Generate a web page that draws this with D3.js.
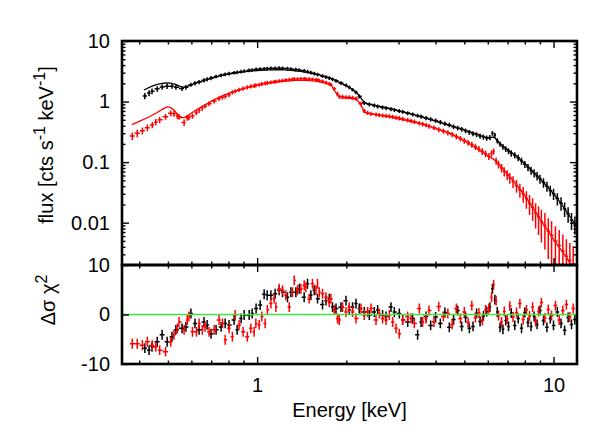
<!DOCTYPE html>
<html><head><meta charset="utf-8">
<script src="https://cdn.jsdelivr.net/npm/d3@7"></script>
<style>
body{margin:0;background:#fff;}
svg text{font-family:"Liberation Sans",Arial,Helvetica,sans-serif;fill:#000;}
</style></head><body>
<svg id="chart" width="613" height="429"></svg>
<script>
// ---------------- data ----------------
const blackE = [0.418,0.432,0.442,0.460,0.478,0.497,0.516,0.532,0.558,0.575,0.598,0.617,0.637,0.662,0.678,0.699,0.727,0.756,0.780,0.804,0.836,0.856,0.883,0.904,0.940,0.962,0.992,1.024,1.056,1.081,
 1.113,1.150,1.187,1.218,1.266,1.300,1.351,1.387,1.441,1.479,1.518,1.558,1.599,1.662,1.707,1.751,1.796,1.845,1.918,1.994,2.046,2.099,2.155,2.211,2.299,2.390,2.485,2.550,2.650,2.722,2.829,2.903,3.018,3.097,3.220,3.347,3.479,3.573,3.715,
 3.85,4.0,4.15,4.3,4.45,4.6,4.75,4.9,5.05,5.2,5.35,5.5,5.65,5.8,5.95,6.1,6.22,6.34,6.46,6.6,6.75,6.9,7.05,7.2,7.4,7.6,7.8,8.0,8.2,8.4,8.6,8.8,9.0,9.25,9.5,9.75,10.0,10.3,10.6,10.9,11.2,11.5,11.8];
const blackFlux = [1.24,1.38,1.48,1.62,1.74,1.79,1.79,1.72,1.64,1.72,1.90,2.00,2.10,2.25,2.33,2.45,2.60,2.72,2.82,2.90,3.00,3.05,3.12,3.18,3.28,3.33,3.40,3.44,3.48,3.50,
 3.54,3.56,3.57,3.56,3.50,3.45,3.38,3.32,3.22,3.12,3.02,2.90,2.80,2.64,2.54,2.44,2.33,2.20,2.02,1.86,1.72,1.57,1.42,1.22,0.95,0.90,0.86,0.83,0.80,0.78,0.75,0.73,0.70,0.68,0.645,0.615,0.585,0.565,0.535,
 0.51,0.485,0.455,0.43,0.41,0.385,0.365,0.35,0.33,0.31,0.295,0.285,0.27,0.26,0.25,0.255,0.30,0.28,0.225,0.20,0.18,0.165,0.152,0.14,0.13,0.118,0.104,0.092,0.082,0.073,0.066,0.059,0.053,0.046,0.040,0.034,0.030,0.025,0.021,0.017,0.014,0.011,0.0095];
const blackErr = [0.12,0.11,0.11,0.10,0.10,0.10,0.09,0.09,0.09,0.09,0.08,0.08,0.08,0.08,0.08,0.08,0.07,0.07,0.07,0.07,0.07,0.07,0.07,0.07,0.07,0.07,0.07,0.07,0.07,0.07,
 0.07,0.07,0.07,0.07,0.07,0.07,0.07,0.07,0.07,0.07, 0.07,0.07,0.07,0.07,0.07,0.07,0.07,0.07,0.07,0.07, 0.07,0.07,0.07,0.075,0.075,0.075,0.075,0.075,0.075,0.075, 0.075,0.075,0.075,0.075,0.075,0.075,0.08,0.08,0.08,
 0.08,0.08,0.085,0.085,0.085,0.09,0.09,0.09,0.09,0.095,0.095,0.095,0.1,0.1,0.1,0.1,0.09,0.095,0.1,0.1,0.11,0.11,0.115,0.12,0.12,0.125,0.13,0.135,0.14,0.15,0.155,0.16,0.17,0.18,0.19,0.2,0.21,0.23,0.25,0.27,0.29,0.31,0.33];
const blackRes = [-6.8,-7.2,-6.5,-5.5,-4.1,-5.5,-4.5,-3.1,-2.8,-2.5,0.2,-1.8,-3.1,-1.5,-2.1,-3.9,-3.1,-2.5,-1.8,-2.1,-1.1,-3.1,-0.8,-0.1,-0.1,0.2,1.2,1.9,4.1,3.9,
 3.9,4.2,4.9,4.5,3.5,4.5,4.5,5.2,3.5,6.2,3.9,4.9,3.2,2.0,2.8,3.2,1.5,1.2,1.5,2.8,0.9,1.5,2.2,1.2,0.5,-0.1,0.5,0.9,-0.1,-0.4,1.5,0.5,0.2,-1.1,-1.5,-0.8,-4.1,-1.5,-0.4,
 -2.2,-0.5,-1.8,0.4,-2.6,-1.0,0.8,-2.4,-0.6,-2.8,-2.4,0.2,-1.4,-0.3,0.6,1.5,5.2,3.0,0.5,-2.6,-3.0,-1.2,-2.4,0.3,-2.2,-0.8,-2.8,0.4,-1.6,-2.4,-0.4,-2.0,0.8,-1.2,-2.6,-0.8,-2.2,0.5,-1.8,-3.2,-0.6,-2.0,-1.0];

const redE = [0.379,0.394,0.410,0.426,0.443,0.455,0.469,0.491,0.511,0.524,0.538,0.545,0.567,0.581,0.589,0.605,0.624,0.637,0.653,0.667,0.688,0.716,0.744,0.764,0.780,0.804,0.825,0.843,0.869,0.897,0.927,0.952,0.977,0.990,1.016,1.037,1.064,1.083,
 1.113,1.141,1.157,1.187,1.218,1.250,1.283,1.316,1.334,1.368,1.405,1.441,1.460,1.498,1.537,1.579,1.599,1.620,1.662,1.707,1.751,1.774,1.820,1.867,1.892,1.942,1.994,2.046,2.099,2.155,2.240,2.299,2.359,2.422,2.518,2.584,2.650,2.722,2.792,2.865,2.942,3.018,3.097,3.220,3.306,3.391,3.526,3.618,3.715,
 3.8,3.95,4.1,4.25,4.4,4.55,4.7,4.85,5.0,5.15,5.3,5.45,5.6,5.75,5.9,6.05,6.18,6.28,6.4,6.52,6.68,6.82,6.98,7.12,7.3,7.5,7.7,7.9,8.1,8.3,8.5,8.7,8.9,9.1,9.35,9.6,9.85,10.15,10.45,10.75,11.05,11.35,11.65];
const redFlux = [0.27,0.30,0.33,0.37,0.41,0.46,0.50,0.56,0.64,0.63,0.58,0.56,0.45,0.54,0.55,0.58,0.66,0.72,0.78,0.84,0.92,1.02,1.12,1.18,1.22,1.30,1.42,1.48,1.56,1.64,1.72,1.78,1.82,1.86,1.90,1.95,2.00,2.04,
 2.08,2.12,2.14,2.19,2.23,2.27,2.30,2.33,2.35,2.36,2.37,2.37,2.36,2.35,2.33,2.29,2.27,2.23,2.16,2.06,1.96,1.90,1.62,1.35,1.22,1.20,1.18,1.18,1.16,1.12,0.92,0.70,0.65,0.63,0.61,0.60,0.59,0.58,0.57,0.56,0.545,0.53,0.515,0.495,0.48,0.465,0.44,0.425,0.41,
 0.39,0.37,0.345,0.325,0.305,0.285,0.265,0.245,0.225,0.21,0.195,0.18,0.165,0.15,0.138,0.125,0.14,0.15,0.105,0.092,0.08,0.07,0.062,0.055,0.048,0.041,0.035,0.030,0.025,0.021,0.018,0.0145,0.0125,0.0105,0.009,0.0072,0.0062,0.005,0.0042,0.0034,0.0028,0.0024,0.0021];
const redErr = [0.14,0.14,0.13,0.13,0.12,0.12,0.12,0.11,0.11,0.11,0.11,0.11,0.12,0.11,0.11,0.1,0.1,0.1,0.1,0.09,0.09,0.09,0.09,0.09,0.09,0.09,0.08,0.08,0.08,0.08,0.08,0.08,0.08,0.08,0.08,0.08,0.08,0.08,
 0.07,0.07,0.07,0.07,0.07,0.07,0.07,0.07,0.07,0.07, 0.07,0.07,0.07,0.07,0.07,0.07,0.07,0.07,0.07,0.07, 0.07,0.07,0.075,0.075,0.075,0.075,0.075,0.075,0.075,0.08, 0.08,0.08,0.08,0.08,0.08,0.08,0.08,0.08,0.08,0.08, 0.08,0.085,0.085,0.085,0.085,0.085,0.085,0.085,0.085,
 0.09,0.09,0.095,0.095,0.1,0.1,0.105,0.105,0.11,0.11,0.115,0.12,0.12,0.125,0.13,0.13,0.12,0.12,0.14,0.15,0.16,0.17,0.18,0.2,0.22,0.24,0.26,0.29,0.32,0.36,0.4,0.45,0.5,0.55,0.6,0.65,0.7,0.75,0.8,0.85,0.9,0.93,0.95];
const redRes = [-5.9,-5.9,-6.2,-5.5,-6.2,-6.5,-7.2,-7.5,-5.5,-4.1,-2.8,-1.5,-3.1,-1.1,-0.4,-3.5,-3.5,-1.8,-3.1,-2.5,-3.5,-3.1,-1.1,-1.8,-5.1,-2.8,-4.5,-0.1,-2.1,-3.5,-4.5,-2.8,-3.5,-1.8,-2.1,-0.4,-1.8,0.9,
 2.2,3.2,1.5,5.2,4.9,3.9,1.5,4.5,6.9,4.9,5.2,5.9,5.5,3.2,6.2,4.9,6.2,4.5,4.2,3.5,2.5,3.2,0.9,-0.8,-1.1,1.5,0.5,1.5,0.5,-0.8,1.2,-0.1,0.5,1.2,-1.1,0.2,-0.8,-1.1,-0.1,-1.5,-2.8,-3.9,-1.1,-0.4,-0.8,-1.8,1.2,-1.5,-0.8,
 0.8,-1.5,1.6,-0.4,0.2,-2.0,1.2,-0.8,0.5,-1.6,1.8,-0.6,0.3,-1.2,0.9,1.2,3.5,6.0,2.8,-0.2,-1.5,0.6,-0.9,1.7,-0.5,0.4,2.2,-1.0,0.9,-0.3,1.5,-1.4,0.6,2.4,-0.7,1.0,-0.2,1.8,-1.1,0.8,2.0,-0.5,1.2];

const blackModelE = [0.415,0.44,0.46,0.49,0.51,0.53,0.55,0.567,0.59,0.62,0.66,0.70,0.75,0.80,0.85,0.90,0.95,1.0,1.1,1.2,1.3,1.4,1.5,1.6,1.7,1.8,1.9,2.0,2.1,2.2,2.3,2.4,2.6,2.8,3.0,3.5,4.0,4.5,5.0,5.5,6.0,6.3,6.6,7.0,7.5,8.0,8.5,9.0,9.5,10.0,10.5,11.0,11.5,12.0];
const blackModelF = [1.55,1.78,1.92,2.04,2.02,1.92,1.78,1.72,1.84,2.02,2.22,2.42,2.65,2.84,2.98,3.08,3.18,3.26,3.34,3.36,3.28,3.14,2.98,2.80,2.58,2.34,2.06,1.82,1.58,1.30,0.95,0.90,0.83,0.77,0.70,0.58,0.475,0.40,0.34,0.29,0.25,0.26,0.20,0.158,0.125,0.094,0.070,0.053,0.040,0.030,0.022,0.016,0.0115,0.0085];
const redModelE = [0.378,0.40,0.43,0.46,0.48,0.496,0.51,0.525,0.54,0.553,0.57,0.59,0.62,0.65,0.69,0.73,0.78,0.83,0.9,1.0,1.07,1.15,1.25,1.35,1.45,1.58,1.7,1.78,1.82,1.87,1.9,2.0,2.15,2.22,2.3,2.4,2.6,2.8,3.0,3.5,4.0,4.5,5.0,5.5,6.0,6.3,6.6,7.0,7.5,8.0,8.5,9.0,9.5,10.0,10.5,11.0,11.5,12.0];
const redModelF = [0.417,0.47,0.55,0.66,0.75,0.817,0.80,0.72,0.60,0.537,0.55,0.61,0.72,0.82,0.97,1.12,1.30,1.46,1.64,1.86,1.98,2.08,2.18,2.23,2.23,2.18,2.02,1.86,1.55,1.25,1.15,1.14,1.10,0.95,0.67,0.63,0.59,0.56,0.52,0.44,0.36,0.295,0.225,0.17,0.128,0.11,0.088,0.063,0.042,0.028,0.018,0.0115,0.0078,0.0053,0.0038,0.0028,0.0019,0.0013];

const xMajorTicks = [1, 10];
const xTickLabels = ["1", "10"];
const yTopTicks = [0.01, 0.1, 1, 10];
const yTopLabels = ["0.01", "0.1", "1", "10"];
const yBotTicks = [-10, 0, 10];
const yBotLabels = ["-10", "0", "10"];

// ---------------- layout ----------------
const L = 122, R = 577, T1 = 41, B1 = 265, B2 = 364;
const svg = d3.select("#chart");
const x = d3.scaleLog().domain([0.35, 12]).range([L, R]);
const yT = d3.scaleLog().domain([0.002, 10]).range([B1, T1]);
const yB = d3.scaleLinear().domain([-10, 10]).range([B2, B1]);

const FS = 20;
const defs = svg.append("defs");
defs.append("clipPath").attr("id","clipTop").append("rect").attr("x",L).attr("y",T1).attr("width",R-L).attr("height",B1-T1);
defs.append("clipPath").attr("id","clipBot").append("rect").attr("x",L).attr("y",B1).attr("width",R-L).attr("height",B2-B1);

function edges(E){
  return E.map((e,i)=>{
    const lo = i>0 ? Math.sqrt(E[i-1]*e) : e*Math.sqrt(e/E[i+1]);
    const hi = i<E.length-1 ? Math.sqrt(e*E[i+1]) : e*Math.sqrt(e/E[i-1]);
    return [lo,hi];
  });
}

function drawTop(E, F, rel, color){
  const ed = edges(E);
  const n = Math.min(E.length, F.length, rel.length);
  const p = d3.path();
  for(let i=0;i<n;i++){
    const yy = yT(F[i]);
    p.moveTo(x(ed[i][0]), yy); p.lineTo(x(ed[i][1]), yy);
    const lo = Math.max(F[i]*(1-rel[i]), 1e-4);
    p.moveTo(x(E[i]), yT(lo)); p.lineTo(x(E[i]), yT(F[i]*(1+rel[i])));
  }
  gTop.append("path").attr("d", p.toString()).attr("fill","none").attr("stroke",color).attr("stroke-width",1.5);
}
function drawRes(E, Rv, color){
  const ed = edges(E);
  const n = Math.min(E.length, Rv.length);
  const p = d3.path();
  for(let i=0;i<n;i++){
    const yy = yB(Rv[i]);
    p.moveTo(x(ed[i][0]), yy); p.lineTo(x(ed[i][1]), yy);
    p.moveTo(x(E[i]), yB(Rv[i]-1)); p.lineTo(x(E[i]), yB(Rv[i]+1));
  }
  gBot.append("path").attr("d", p.toString()).attr("fill","none").attr("stroke",color).attr("stroke-width",1.5);
}
function drawModel(E, F, color){
  const line = d3.line().x(d=>x(d[0])).y(d=>yT(d[1]));
  gTop.append("path").attr("d", line(E.map((e,i)=>[e,F[i]]))).attr("fill","none").attr("stroke",color).attr("stroke-width",1.3);
}

const gTop = svg.append("g").attr("clip-path","url(#clipTop)");
const gBot = svg.append("g").attr("clip-path","url(#clipBot)");

drawTop(blackE, blackFlux, blackErr, "#000");
drawTop(redE, redFlux, redErr, "#ff0000");
drawModel(blackModelE, blackModelF, "#000");
drawModel(redModelE, redModelF, "#ff0000");

drawRes(blackE, blackRes, "#000");
drawRes(redE, redRes, "#ff0000");
gBot.append("line").attr("x1",L).attr("x2",R).attr("y1",yB(0)).attr("y2",yB(0)).attr("stroke","#3ee63e").attr("stroke-width",1.6);

// ---------------- axes ----------------
const xMinor = x.ticks().filter(v=>xMajorTicks.indexOf(v)<0 && v>0.35 && v<12);
const yMinor = yT.ticks().filter(v=>yTopTicks.indexOf(v)<0 && v>0.002 && v<10);

function styleAxis(g){
  g.select(".domain").remove();
  g.selectAll("line").attr("stroke","#000").attr("stroke-width",1.4);
  g.selectAll("text").attr("font-size",FS).attr("font-family","'Liberation Sans',Arial,sans-serif").attr("fill","#000");
  g.attr("font-size",null).attr("font-family",null);
}
const MJ = 7, MN = 3.5;
// top panel y
svg.append("g").attr("transform",`translate(${L},0)`).call(d3.axisLeft(yT).tickValues(yTopTicks).tickFormat((d,i)=>yTopLabels[i]).tickSize(-MJ).tickPadding(12)).call(styleAxis);
svg.append("g").attr("transform",`translate(${L},0)`).call(d3.axisLeft(yT).tickValues(yMinor).tickFormat("").tickSize(-MN)).call(styleAxis);
svg.append("g").attr("transform",`translate(${R},0)`).call(d3.axisRight(yT).tickValues(yTopTicks).tickFormat("").tickSize(-MJ)).call(styleAxis);
svg.append("g").attr("transform",`translate(${R},0)`).call(d3.axisRight(yT).tickValues(yMinor).tickFormat("").tickSize(-MN)).call(styleAxis);
// x ticks on top of upper panel
svg.append("g").attr("transform",`translate(0,${T1})`).call(d3.axisTop(x).tickValues(xMajorTicks).tickFormat("").tickSize(-MJ)).call(styleAxis);
svg.append("g").attr("transform",`translate(0,${T1})`).call(d3.axisTop(x).tickValues(xMinor).tickFormat("").tickSize(-MN)).call(styleAxis);
// x ticks at the shared border (both directions)
svg.append("g").attr("transform",`translate(0,${B1})`).call(d3.axisBottom(x).tickValues(xMajorTicks).tickFormat("").tickSize(-MJ)).call(styleAxis);
svg.append("g").attr("transform",`translate(0,${B1})`).call(d3.axisBottom(x).tickValues(xMinor).tickFormat("").tickSize(-MN)).call(styleAxis);
svg.append("g").attr("transform",`translate(0,${B1})`).call(d3.axisTop(x).tickValues(xMajorTicks).tickFormat("").tickSize(-MJ)).call(styleAxis);
svg.append("g").attr("transform",`translate(0,${B1})`).call(d3.axisTop(x).tickValues(xMinor).tickFormat("").tickSize(-MN)).call(styleAxis);
// bottom x axis with labels
svg.append("g").attr("transform",`translate(0,${B2})`).call(d3.axisBottom(x).tickValues(xMajorTicks).tickFormat((d,i)=>xTickLabels[i]).tickSize(-MJ).tickPadding(14)).call(styleAxis);
svg.append("g").attr("transform",`translate(0,${B2})`).call(d3.axisBottom(x).tickValues(xMinor).tickFormat("").tickSize(-MN)).call(styleAxis);
// bottom panel y
svg.append("g").attr("transform",`translate(${L},0)`).call(d3.axisLeft(yB).tickValues(yBotTicks).tickFormat((d,i)=>yBotLabels[i]).tickSize(-MJ).tickPadding(12)).call(styleAxis);

// frames
svg.append("rect").attr("x",L).attr("y",T1).attr("width",R-L).attr("height",B1-T1).attr("fill","none").attr("stroke","#000").attr("stroke-width",2.6);
svg.append("rect").attr("x",L).attr("y",B1).attr("width",R-L).attr("height",B2-B1).attr("fill","none").attr("stroke","#000").attr("stroke-width",2.6);

// axis titles
svg.append("text").attr("x",349.5).attr("y",417).attr("text-anchor","middle").attr("font-size",FS).text("Energy [keV]");
const yl = svg.append("text").attr("transform","translate(53,145) rotate(-90)").attr("text-anchor","middle").attr("font-size",FS);
yl.append("tspan").text("flux [cts s");
yl.append("tspan").attr("dy",-8).attr("font-size",16).text("-1");
yl.append("tspan").attr("dy",8).text(" keV");
yl.append("tspan").attr("dy",-8).attr("font-size",16).text("-1");
yl.append("tspan").attr("dy",8).text("]");
const rl = svg.append("text").attr("transform","translate(55,300) rotate(-90)").attr("text-anchor","middle").attr("font-size",FS);
rl.append("tspan").text("\u0394\u03c3 \u03c7");
rl.append("tspan").attr("dy",-8).attr("font-size",16).text("2");
</script>
</body></html>
